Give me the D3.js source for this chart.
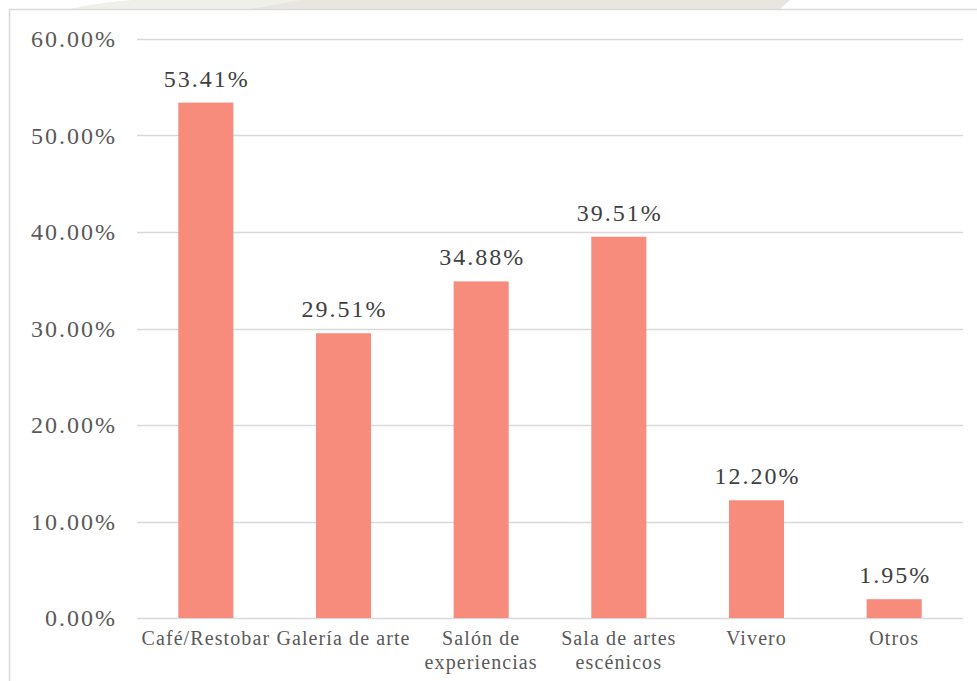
<!DOCTYPE html>
<html>
<head>
<meta charset="utf-8">
<script src="https://cdn.jsdelivr.net/npm/d3@7"></script>
<style>
  html, body { margin: 0; padding: 0; background: #fff; }
  svg { display: block; }
</style>
</head>
<body>
<svg id="chart" width="977" height="681"></svg>
<script>
const categories = [["Café/Restobar"], ["Galería de arte"], ["Salón de", "experiencias"], ["Sala de artes", "escénicos"], ["Vivero"], ["Otros"]];
const values = [53.41, 29.51, 34.88, 39.51, 12.20, 1.95];
const yTicks = [0, 10, 20, 30, 40, 50, 60];

const W = 977, H = 681;
const margin = { left: 137, right: 14, top: 39, bottom: 63 };
const svg = d3.select("#chart");
const font = "'Liberation Serif', serif";

// faint watermark remnant above the frame
svg.append("path")
  .attr("d", "M70,9 C150,-10 300,-2 420,0 L430,9 Z")
  .attr("fill", "#f0f0ea");
svg.append("path")
  .attr("d", "M250,9 L300,0 L790,0 L780,9 Z")
  .attr("fill", "#e8e7df");

// frame
svg.append("line").attr("x1", 9).attr("x2", W).attr("y1", 9.5).attr("y2", 9.5)
  .attr("stroke", "#d9d9d9").attr("stroke-width", 1.5);
svg.append("line").attr("x1", 9.5).attr("x2", 9.5).attr("y1", 9).attr("y2", H)
  .attr("stroke", "#d9d9d9").attr("stroke-width", 1.5);

const x = d3.scaleBand()
  .domain(categories.map((c, i) => i))
  .range([margin.left, W - margin.right])
  .paddingInner(0.6).paddingOuter(0.3);
const y = d3.scaleLinear().domain([0, 60]).range([H - margin.bottom, margin.top]);

// gridlines
svg.append("g").selectAll("line").data(yTicks).join("line")
  .attr("x1", margin.left).attr("x2", W - margin.right)
  .attr("y1", d => Math.round(y(d)) + 0.5).attr("y2", d => Math.round(y(d)) + 0.5)
  .attr("stroke", "#d9d9d9").attr("stroke-width", 1.5);

// y tick labels
svg.append("g").selectAll("text").data(yTicks).join("text")
  .attr("x", 117).attr("y", d => y(d)).attr("dy", "0.34em")
  .attr("text-anchor", "end")
  .attr("font-family", font).attr("font-size", 24)
  .attr("letter-spacing", 2)
  .attr("fill", "#595959")
  .text(d => d.toFixed(2) + "%");

// bars
svg.append("g").selectAll("rect").data(values).join("rect")
  .attr("x", (d, i) => x(i)).attr("width", x.bandwidth())
  .attr("y", d => y(d)).attr("height", d => y(0) - y(d))
  .attr("fill", "#f78c7c");

// value labels
svg.append("g").selectAll("text").data(values).join("text")
  .attr("x", (d, i) => x(i) + x.bandwidth() / 2 + 1)
  .attr("y", d => y(d) - 16)
  .attr("text-anchor", "middle")
  .attr("font-family", font).attr("font-size", 24)
  .attr("letter-spacing", 2)
  .attr("fill", "#404040")
  .text(d => d.toFixed(2) + "%");

// category labels
const cg = svg.append("g").selectAll("text").data(categories).join("text")
  .attr("x", (d, i) => x(i) + x.bandwidth() / 2)
  .attr("y", 645)
  .attr("text-anchor", "middle")
  .attr("font-family", font).attr("font-size", 20)
  .attr("letter-spacing", 1.1)
  .attr("fill", "#595959");
cg.selectAll("tspan").data(d => d).join("tspan")
  .attr("x", function () { return d3.select(this.parentNode).attr("x"); })
  .attr("dy", (d, i) => i === 0 ? 0 : 24)
  .text(d => d);
</script>
</body>
</html>
